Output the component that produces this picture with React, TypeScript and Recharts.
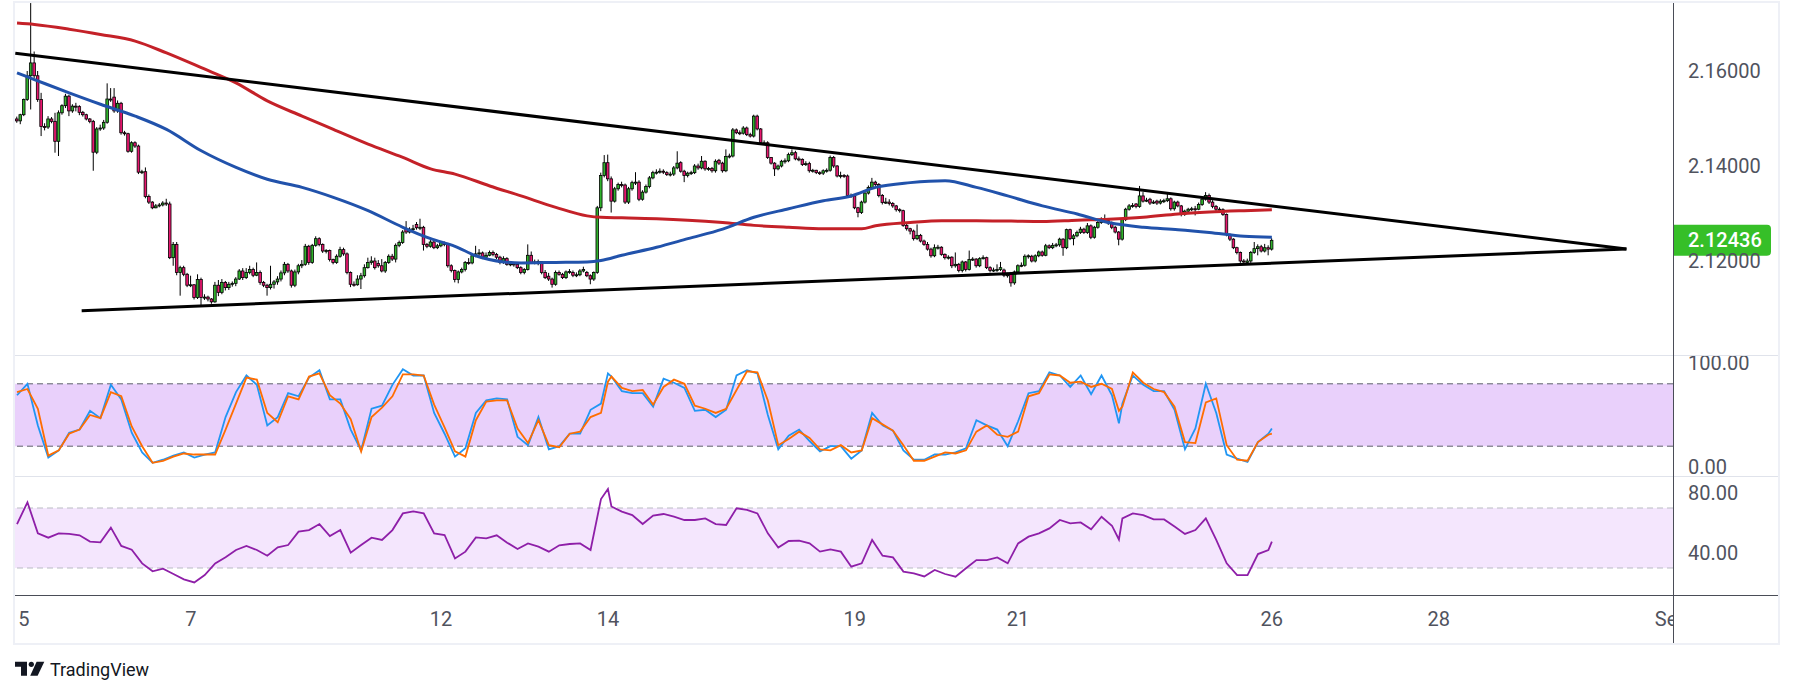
import React from "react";
import { ComposedChart, Bar, Line, XAxis, YAxis, ReferenceLine, ReferenceArea } from "recharts";

// ---------- data ----------
// hourly candles: [open, high, low, close]
const ohlc: [number, number, number, number][] = [
[2.1499,2.1504,2.1491,2.1495],[2.1495,2.1510,2.1488,2.1508],[2.1508,2.1542,2.1505,2.1540],[2.1540,2.1600,2.1537,2.1590],[2.1590,2.1743,2.1519,2.1617],
[2.1617,2.1641,2.1585,2.1590],[2.1590,2.1600,2.1535,2.1540],[2.1540,2.1554,2.1463,2.1483],[2.1483,2.1490,2.1475,2.1482],[2.1482,2.1505,2.1478,2.1499],
[2.1499,2.1503,2.1490,2.1494],[2.1494,2.1512,2.1428,2.1452],[2.1452,2.1517,2.1421,2.1512],[2.1512,2.1530,2.1508,2.1527],[2.1527,2.1552,2.1522,2.1547],
[2.1547,2.1550,2.1505,2.1516],[2.1516,2.1530,2.1512,2.1526],[2.1526,2.1533,2.1515,2.1525],[2.1525,2.1528,2.1507,2.1513],[2.1513,2.1516,2.1504,2.1508],
[2.1508,2.1510,2.1496,2.1499],[2.1499,2.1501,2.1490,2.1494],[2.1494,2.1497,2.1390,2.1429],[2.1429,2.1482,2.1425,2.1478],[2.1478,2.1487,2.1474,2.1480],
[2.1480,2.1497,2.1476,2.1492],[2.1492,2.1574,2.1489,2.1541],[2.1541,2.1564,2.1535,2.1540],[2.1545,2.1564,2.1512,2.1516],[2.1516,2.1538,2.1512,2.1532],
[2.1532,2.1535,2.1466,2.1470],[2.1470,2.1474,2.1464,2.1468],[2.1468,2.1470,2.1428,2.1431],[2.1431,2.1452,2.1428,2.1449],[2.1449,2.1452,2.1438,2.1442],
[2.1442,2.1445,2.1383,2.1387],[2.1387,2.1392,2.1383,2.1388],[2.1388,2.1397,2.1332,2.1336],[2.1336,2.1340,2.1320,2.1324],[2.1324,2.1326,2.1309,2.1312],
[2.1312,2.1320,2.1311,2.1316],[2.1316,2.1322,2.1313,2.1318],[2.1318,2.1326,2.1315,2.1322],[2.1322,2.1331,2.1316,2.1320],[2.1320,2.1325,2.1204,2.1207],
[2.1207,2.1240,2.1190,2.1235],[2.1235,2.1240,2.1170,2.1176],[2.1176,2.1190,2.1127,2.1186],[2.1186,2.1190,2.1168,2.1172],[2.1172,2.1175,2.1145,2.1149],
[2.1149,2.1169,2.1145,2.1150],[2.1150,2.1151,2.1119,2.1123],[2.1123,2.1172,2.1120,2.1161],[2.1161,2.1165,2.1106,2.1123],[2.1123,2.1130,2.1118,2.1124],
[2.1124,2.1127,2.1115,2.1120],[2.1120,2.1122,2.1110,2.1114],[2.1114,2.1156,2.1112,2.1149],[2.1149,2.1160,2.1126,2.1134],[2.1134,2.1162,2.1130,2.1155],
[2.1155,2.1158,2.1138,2.1144],[2.1144,2.1156,2.1139,2.1151],[2.1151,2.1157,2.1146,2.1153],[2.1153,2.1166,2.1147,2.1162],[2.1162,2.1183,2.1160,2.1179],
[2.1179,2.1185,2.1160,2.1165],[2.1165,2.1185,2.1162,2.1176],[2.1176,2.1190,2.1172,2.1182],[2.1182,2.1186,2.1166,2.1170],[2.1170,2.1197,2.1168,2.1176],
[2.1176,2.1180,2.1150,2.1155],[2.1155,2.1158,2.1145,2.1149],[2.1149,2.1152,2.1127,2.1144],[2.1144,2.1190,2.1140,2.1151],[2.1151,2.1160,2.1142,2.1156],
[2.1156,2.1168,2.1150,2.1162],[2.1162,2.1180,2.1157,2.1175],[2.1175,2.1198,2.1170,2.1193],[2.1193,2.1196,2.1175,2.1179],[2.1179,2.1182,2.1144,2.1149],
[2.1149,2.1182,2.1145,2.1177],[2.1177,2.1194,2.1172,2.1190],[2.1190,2.1202,2.1185,2.1193],[2.1193,2.1236,2.1190,2.1231],[2.1231,2.1234,2.1192,2.1197],
[2.1197,2.1236,2.1194,2.1233],[2.1233,2.1252,2.1230,2.1247],[2.1247,2.1250,2.1231,2.1235],[2.1235,2.1237,2.1217,2.1221],[2.1221,2.1225,2.1216,2.1222],
[2.1222,2.1224,2.1199,2.1203],[2.1203,2.1205,2.1193,2.1197],[2.1197,2.1214,2.1194,2.1210],[2.1210,2.1230,2.1207,2.1224],[2.1224,2.1228,2.1211,2.1215],
[2.1215,2.1218,2.1172,2.1176],[2.1176,2.1178,2.1145,2.1151],[2.1151,2.1157,2.1146,2.1150],[2.1150,2.1170,2.1148,2.1162],[2.1162,2.1175,2.1141,2.1169],
[2.1169,2.1193,2.1165,2.1186],[2.1186,2.1207,2.1184,2.1197],[2.1197,2.1210,2.1192,2.1200],[2.1200,2.1207,2.1182,2.1186],[2.1195,2.1202,2.1186,2.1190],
[2.1190,2.1204,2.1176,2.1179],[2.1179,2.1200,2.1175,2.1197],[2.1197,2.1214,2.1194,2.1210],[2.1210,2.1215,2.1200,2.1204],[2.1204,2.1237,2.1197,2.1233],
[2.1233,2.1243,2.1229,2.1239],[2.1239,2.1265,2.1236,2.1261],[2.1267,2.1284,2.1257,2.1261],[2.1261,2.1271,2.1258,2.1267],[2.1267,2.1276,2.1262,2.1268],
[2.1277,2.1282,2.1266,2.1270],[2.1270,2.1289,2.1265,2.1271],[2.1271,2.1274,2.1222,2.1235],
[2.1235,2.1238,2.1227,2.1231],[2.1231,2.1244,2.1228,2.1240],[2.1240,2.1243,2.1225,2.1228],[2.1228,2.1236,2.1225,2.1232],[2.1232,2.1242,2.1229,2.1239],
[2.1239,2.1241,2.1231,2.1235],[2.1235,2.1238,2.1186,2.1190],[2.1190,2.1193,2.1176,2.1180],[2.1180,2.1182,2.1155,2.1161],[2.1161,2.1180,2.1153,2.1177],
[2.1177,2.1186,2.1174,2.1182],[2.1182,2.1200,2.1178,2.1197],[2.1197,2.1206,2.1192,2.1196],[2.1196,2.1214,2.1193,2.1211],[2.1211,2.1232,2.1208,2.1215],
[2.1215,2.1225,2.1211,2.1217],[2.1217,2.1220,2.1204,2.1208],[2.1208,2.1218,2.1205,2.1212],[2.1212,2.1222,2.1210,2.1218],[2.1218,2.1222,2.1210,2.1214],
[2.1214,2.1217,2.1204,2.1208],[2.1208,2.1211,2.1193,2.1197],[2.1197,2.1210,2.1194,2.1205],[2.1205,2.1208,2.1190,2.1193],[2.1193,2.1199,2.1189,2.1194],
[2.1194,2.1197,2.1188,2.1193],[2.1193,2.1196,2.1183,2.1186],[2.1186,2.1189,2.1172,2.1176],[2.1176,2.1185,2.1172,2.1182],[2.1182,2.1235,2.1180,2.1212],
[2.1212,2.1220,2.1194,2.1197],[2.1197,2.1203,2.1193,2.1198],[2.1195,2.1203,2.1191,2.1199],[2.1199,2.1200,2.1172,2.1176],[2.1176,2.1181,2.1162,2.1165],
[2.1168,2.1175,2.1158,2.1162],[2.1162,2.1165,2.1144,2.1151],[2.1151,2.1180,2.1148,2.1176],[2.1176,2.1180,2.1169,2.1172],[2.1172,2.1175,2.1162,2.1165],
[2.1165,2.1180,2.1162,2.1177],[2.1177,2.1183,2.1173,2.1178],[2.1176,2.1180,2.1166,2.1170],[2.1170,2.1176,2.1166,2.1171],[2.1171,2.1183,2.1168,2.1179],
[2.1179,2.1188,2.1176,2.1182],[2.1176,2.1179,2.1166,2.1169],[2.1169,2.1172,2.1151,2.1162],[2.1162,2.1178,2.1158,2.1176],[2.1176,2.1316,2.1173,2.1312],
[2.1312,2.1386,2.1305,2.1380],[2.1380,2.1423,2.1376,2.1407],[2.1407,2.1424,2.1368,2.1373],[2.1373,2.1378,2.1302,2.1326],[2.1326,2.1356,2.1323,2.1352],
[2.1352,2.1365,2.1348,2.1361],[2.1361,2.1367,2.1355,2.1360],[2.1360,2.1363,2.1320,2.1324],[2.1324,2.1356,2.1320,2.1352],[2.1352,2.1369,2.1348,2.1365],
[2.1365,2.1387,2.1360,2.1366],[2.1366,2.1370,2.1326,2.1330],[2.1330,2.1349,2.1327,2.1345],[2.1345,2.1361,2.1342,2.1357],[2.1357,2.1379,2.1353,2.1375],
[2.1375,2.1390,2.1372,2.1386],[2.1386,2.1393,2.1382,2.1387],[2.1387,2.1395,2.1384,2.1389],[2.1389,2.1393,2.1383,2.1387],[2.1386,2.1389,2.1379,2.1382],
[2.1382,2.1388,2.1378,2.1383],[2.1383,2.1400,2.1379,2.1396],[2.1396,2.1431,2.1393,2.1406],[2.1407,2.1410,2.1386,2.1389],[2.1389,2.1392,2.1366,2.1380],
[2.1380,2.1388,2.1376,2.1385],[2.1385,2.1390,2.1381,2.1386],[2.1386,2.1404,2.1383,2.1400],[2.1400,2.1405,2.1392,2.1396],[2.1396,2.1421,2.1393,2.1410],
[2.1410,2.1412,2.1390,2.1394],[2.1394,2.1398,2.1390,2.1395],[2.1395,2.1398,2.1386,2.1390],[2.1390,2.1414,2.1386,2.1410],[2.1412,2.1415,2.1402,2.1406],
[2.1406,2.1409,2.1386,2.1390],[2.1390,2.1435,2.1387,2.1420],[2.1420,2.1426,2.1416,2.1421],[2.1421,2.1480,2.1418,2.1476],[2.1476,2.1479,2.1467,2.1470],
[2.1470,2.1475,2.1465,2.1469],[2.1469,2.1484,2.1466,2.1480],[2.1480,2.1483,2.1463,2.1466],[2.1466,2.1470,2.1460,2.1463],[2.1463,2.1508,2.1460,2.1505],
[2.1505,2.1508,2.1475,2.1478],[2.1478,2.1480,2.1446,2.1449],[2.1449,2.1454,2.1445,2.1449],[2.1449,2.1452,2.1415,2.1418],[2.1418,2.1419,2.1403,2.1406],
[2.1406,2.1408,2.1379,2.1394],[2.1394,2.1403,2.1391,2.1400],[2.1400,2.1413,2.1397,2.1410],[2.1410,2.1416,2.1405,2.1411],[2.1411,2.1428,2.1408,2.1424],
[2.1424,2.1435,2.1421,2.1428],[2.1428,2.1432,2.1412,2.1415],[2.1415,2.1420,2.1410,2.1414],[2.1414,2.1416,2.1400,2.1403],[2.1403,2.1410,2.1400,2.1405],
[2.1405,2.1409,2.1386,2.1390],[2.1390,2.1394,2.1386,2.1391],[2.1391,2.1392,2.1383,2.1386],[2.1386,2.1389,2.1381,2.1385],[2.1385,2.1393,2.1381,2.1390],
[2.1390,2.1395,2.1386,2.1391],[2.1391,2.1422,2.1388,2.1418],[2.1418,2.1421,2.1396,2.1400],[2.1400,2.1402,2.1376,2.1379],[2.1379,2.1388,2.1374,2.1380],
[2.1380,2.1383,2.1375,2.1379],[2.1379,2.1382,2.1335,2.1338],
[2.1338,2.1342,2.1333,2.1337],[2.1337,2.1340,2.1309,2.1312],[2.1312,2.1314,2.1292,2.1302],[2.1302,2.1327,2.1299,2.1324],[2.1324,2.1346,2.1321,2.1343],
[2.1343,2.1359,2.1340,2.1355],[2.1355,2.1375,2.1352,2.1366],[2.1366,2.1369,2.1358,2.1361],[2.1361,2.1364,2.1334,2.1338],[2.1338,2.1341,2.1319,2.1323],
[2.1323,2.1333,2.1320,2.1324],[2.1324,2.1330,2.1317,2.1321],[2.1321,2.1324,2.1312,2.1316],[2.1316,2.1318,2.1304,2.1308],[2.1308,2.1311,2.1302,2.1306],
[2.1306,2.1308,2.1272,2.1275],[2.1275,2.1278,2.1264,2.1268],[2.1268,2.1270,2.1256,2.1263],[2.1263,2.1266,2.1243,2.1247],[2.1247,2.1277,2.1244,2.1254],
[2.1254,2.1257,2.1239,2.1242],[2.1242,2.1245,2.1232,2.1235],[2.1235,2.1240,2.1222,2.1225],[2.1225,2.1228,2.1207,2.1211],[2.1211,2.1235,2.1208,2.1228],
[2.1228,2.1234,2.1224,2.1229],[2.1229,2.1231,2.1211,2.1214],[2.1214,2.1216,2.1203,2.1207],[2.1207,2.1212,2.1203,2.1208],[2.1208,2.1210,2.1185,2.1190],
[2.1190,2.1218,2.1186,2.1193],[2.1193,2.1196,2.1176,2.1180],[2.1180,2.1201,2.1176,2.1198],[2.1198,2.1200,2.1178,2.1182],[2.1182,2.1222,2.1180,2.1203],
[2.1203,2.1208,2.1200,2.1204],[2.1204,2.1206,2.1186,2.1190],[2.1190,2.1208,2.1187,2.1205],[2.1205,2.1212,2.1203,2.1207],[2.1207,2.1209,2.1183,2.1186],
[2.1186,2.1189,2.1176,2.1180],[2.1180,2.1186,2.1177,2.1181],[2.1181,2.1193,2.1177,2.1182],[2.1182,2.1198,2.1179,2.1186],[2.1181,2.1184,2.1166,2.1170],
[2.1170,2.1175,2.1165,2.1171],[2.1174,2.1177,2.1146,2.1154],[2.1154,2.1180,2.1150,2.1177],[2.1177,2.1193,2.1174,2.1190],[2.1190,2.1197,2.1187,2.1191],
[2.1191,2.1214,2.1188,2.1210],[2.1210,2.1214,2.1205,2.1211],[2.1210,2.1213,2.1197,2.1200],[2.1200,2.1214,2.1197,2.1211],[2.1211,2.1222,2.1208,2.1219],
[2.1219,2.1222,2.1209,2.1212],[2.1212,2.1236,2.1210,2.1232],[2.1232,2.1235,2.1225,2.1228],[2.1228,2.1238,2.1225,2.1233],[2.1233,2.1238,2.1229,2.1234],
[2.1234,2.1249,2.1230,2.1246],[2.1246,2.1248,2.1211,2.1228],[2.1228,2.1268,2.1225,2.1266],[2.1266,2.1268,2.1244,2.1247],[2.1247,2.1257,2.1233,2.1253],
[2.1253,2.1264,2.1250,2.1260],[2.1260,2.1272,2.1257,2.1267],[2.1267,2.1270,2.1257,2.1260],[2.1260,2.1280,2.1257,2.1274],[2.1274,2.1277,2.1246,2.1250],
[2.1250,2.1274,2.1247,2.1271],[2.1271,2.1285,2.1268,2.1281],[2.1281,2.1292,2.1278,2.1288],[2.1288,2.1298,2.1283,2.1287],[2.1285,2.1288,2.1276,2.1280],
[2.1280,2.1283,2.1267,2.1271],[2.1271,2.1274,2.1258,2.1261],[2.1261,2.1263,2.1233,2.1246],[2.1246,2.1290,2.1243,2.1287],[2.1287,2.1312,2.1284,2.1309],
[2.1309,2.1320,2.1306,2.1316],[2.1316,2.1322,2.1312,2.1317],[2.1320,2.1322,2.1311,2.1315],[2.1315,2.1358,2.1312,2.1337],[2.1337,2.1345,2.1323,2.1326],
[2.1326,2.1333,2.1324,2.1328],[2.1330,2.1333,2.1318,2.1322],[2.1322,2.1328,2.1320,2.1324],[2.1326,2.1329,2.1318,2.1322],[2.1322,2.1330,2.1319,2.1326],
[2.1326,2.1331,2.1322,2.1327],[2.1327,2.1344,2.1324,2.1331],[2.1331,2.1334,2.1306,2.1310],[2.1310,2.1327,2.1306,2.1324],[2.1324,2.1327,2.1313,2.1316],
[2.1316,2.1318,2.1294,2.1298],[2.1298,2.1308,2.1295,2.1305],[2.1305,2.1312,2.1302,2.1309],[2.1309,2.1314,2.1305,2.1310],[2.1310,2.1316,2.1296,2.1309],
[2.1309,2.1323,2.1307,2.1319],[2.1319,2.1333,2.1316,2.1330],[2.1330,2.1345,2.1327,2.1338],[2.1338,2.1342,2.1320,2.1324],[2.1324,2.1328,2.1311,2.1315],
[2.1315,2.1318,2.1305,2.1309],[2.1309,2.1313,2.1304,2.1308],[2.1308,2.1311,2.1295,2.1298],[2.1298,2.1300,2.1252,2.1256],[2.1256,2.1258,2.1242,2.1246],
[2.1246,2.1248,2.1225,2.1228],[2.1228,2.1230,2.1214,2.1218],[2.1218,2.1220,2.1196,2.1200],[2.1200,2.1204,2.1194,2.1198],[2.1197,2.1205,2.1192,2.1200],
[2.1200,2.1221,2.1196,2.1218],[2.1218,2.1240,2.1215,2.1226],[2.1226,2.1235,2.1212,2.1230],[2.1230,2.1234,2.1218,2.1221],[2.1221,2.1236,2.1218,2.1228],
[2.1228,2.1233,2.1212,2.1225],[2.1225,2.1248,2.1222,2.12436],
];

// moving averages: [bar index, value]
const blueMA: [number, number][] = [
[0,2.1596],[5,2.1582],[15,2.1554],[24,2.1530],[34,2.1505],[43,2.1477],[53,2.1432],[63,2.1397],[72,2.1372],[82,2.1355],
[91,2.1334],[101,2.1306],[111,2.1271],[119,2.1247],[126,2.1231],[132,2.1211],[140,2.1198],[145,2.1196],[155,2.1197],[164,2.1198],
[168,2.1201],[174,2.1212],[184,2.1229],[193,2.1247],[203,2.1267],[212,2.1292],[222,2.1310],[232,2.1327],[240,2.1337],[247,2.1355],
[257,2.1365],[267,2.1369],[276,2.1355],[285,2.1337],[295,2.1316],[305,2.1299],[314,2.1281],[324,2.1271],[334,2.1266],[343,2.1260],
[353,2.1252],[361,2.1250],
];
const redMA: [number, number][] = [
[0,2.1701],[5,2.1698],[15,2.1688],[24,2.1677],[34,2.1663],[43,2.1638],[53,2.1607],[63,2.1575],[72,2.1537],[82,2.1505],
[91,2.1477],[101,2.1446],[111,2.1418],[119,2.1394],[126,2.1383],[136,2.1358],[145,2.1337],[155,2.1313],[164,2.1295],[168,2.1292],
[174,2.1291],[184,2.1289],[193,2.1286],[203,2.1281],[212,2.1275],[222,2.1271],[232,2.1268],[243,2.1268],[247,2.1274],[257,2.1281],
[266,2.1285],[276,2.1285],[286,2.1284],[295,2.1283],[305,2.1286],[314,2.1288],[324,2.1292],[334,2.1299],[343,2.1303],[353,2.1306],
[361,2.1308],
];

// triangle trendlines: [bar index, price]
const upperTrend: [number, number][] = [[-0.5, 2.16373], [463, 2.12253]];
const lowerTrend: [number, number][] = [[18.6, 2.10954], [463, 2.12253]];

// oscillators sampled at these bar indices
const indIdx = [
0,3,6,9,12,15,18,21,24,27,
30,33,36,39,42,45,48,51,54,57,
60,63,66,69,72,75,78,81,84,87,
90,93,96,99,102,105,108,111,114,117,
120,123,126,129,132,135,138,141,144,147,
150,153,156,159,162,165,168,170,171,174,
177,180,183,186,189,192,195,198,201,204,
207,210,213,216,219,222,225,228,231,234,
237,240,243,246,249,252,255,258,261,264,
267,270,273,276,279,282,285,288,291,294,
297,300,303,306,309,312,315,317,318,321,
324,327,330,333,336,339,342,345,348,351,
354,357,360,361,
];
const stochK = [
69,80,40,9,16,33,36,54,47,79,
65,33,14,4,7,11,14,9,12,14,
48,72,88,79,40,48,71,68,86,93,
65,65,36,16,56,59,79,94,88,88,
52,32,10,18,52,64,66,65,29,21,
48,17,20,32,32,55,61,90,87,73,
71,71,58,85,81,76,54,55,48,55,
88,93,90,50,17,30,36,25,15,20,
20,8,16,52,40,35,16,7,7,12,
12,14,18,45,40,36,20,44,71,73,
91,88,77,88,70,88,69,42,61,88,
79,73,73,55,17,37,80,52,12,8,
5,24,32,37,
];
const stochD = [
72,75,56,11,16,32,36,50,47,72,
68,39,20,4,6,10,13,12,12,12,
36,61,86,84,52,43,68,65,87,90,
69,61,46,15,48,57,68,89,89,88,
60,38,15,10,45,63,64,64,37,23,
45,21,19,32,34,48,52,82,87,76,
73,74,60,77,84,80,59,56,52,56,
74,92,91,64,21,27,34,28,17,16,
21,14,16,47,41,35,21,6,6,10,
14,13,16,34,40,31,29,34,68,71,
89,88,81,82,77,80,75,54,58,91,
81,75,72,58,24,23,62,66,21,7,
6,24,31,32,
];
const rsiVals = [
59.3,73.8,53.1,50.2,53.1,52.7,51.8,47.6,47.1,56.9,
44.7,42.2,33.1,27.8,29.6,26,22.4,20.4,25.3,33.1,
37.1,42,44.7,42,38.2,43.8,45.3,54.2,55.3,59.3,
51.3,55.3,40.2,45.3,50.2,48.7,55.3,66.4,67.8,66.4,
53.1,52,36.4,40.9,50.4,49.8,51.8,46.9,42.7,46.4,
44.2,40.9,45.1,46,46.4,42,76,82.7,71,67.6,
65.3,59.3,64.9,66,64.2,62,62,63.1,59.3,58.7,
69.8,68.7,66.4,53.1,43.6,48,48.2,46.4,40.9,42.4,
40.9,30.9,33.1,48.7,38.2,37.1,27.6,26.4,24.4,28.7,
26,24.2,29.8,35.3,35.3,37.1,33.1,46.4,50.9,53.1,
56.4,62,59.8,60.4,55.8,64.2,58.2,49,63.1,66.4,
65.3,62.4,62.4,57.6,52.7,55.3,63.1,48.7,33.1,25.3,
25.3,39.3,42,47.6,
];

// axes
const dayTicks = [2, 50, 122, 170, 241, 288, 361, 409, 476];
const dayLabels = ["5", "7", "12", "14", "19", "21", "26", "28", "Sep"];
const priceTicks = [2.12, 2.14, 2.16];
const stochTicks = [0, 100];
const rsiTicks = [40, 80];

// ---------- styling ----------
const FONT = "Roboto, 'Noto Sans', 'DejaVu Sans', sans-serif";
const TXT = "#50535e";
const UP = "#30b22c";
const DOWN = "#e8176f";
const CHART_W = 1763;
const PLOT_W = 1658;
const AXIS_W = 105;
const X_DOMAIN: [number, number] = [-0.58, 476.4];
const PRICE_DOMAIN: [number, number] = [2.100211, 2.174316];
const STOCH_DOMAIN: [number, number] = [-8.65, 106.73];
const RSI_DOMAIN: [number, number] = [12, 90.67];
const VISIBLE: React.CSSProperties = { overflow: "visible" };

type Row = { i: number; o: number; h: number; l: number; c: number; range: [number, number]; blue?: number; red?: number; k?: number; d?: number; rsi?: number };

const rows: Row[] = ohlc.map(([o, h, l, c], i) => ({ i, o, h, l, c, range: [l, h] }));
blueMA.forEach(([i, v]) => { rows[i].blue = v; });
redMA.forEach(([i, v]) => { rows[i].red = v; });
indIdx.forEach((i, n) => { rows[i].k = stochK[n]; rows[i].d = stochD[n]; rows[i].rsi = rsiVals[n]; });
const lastClose = ohlc[ohlc.length - 1][3];

function Candle(props: any) {
  const { x, y, width, height, payload } = props;
  if (!payload || typeof y !== "number") return null;
  const { o, h, l, c } = payload as Row;
  const top = Math.min(y, y + height);
  const hh = Math.abs(height);
  const cx = x + width / 2;
  const py = (v: number) => top + ((h - v) / (h - l)) * hh;
  const bTop = py(Math.max(o, c));
  const bBot = py(Math.min(o, c));
  const bw = 2.6;
  return (
    <g>
      <line x1={cx} x2={cx} y1={top} y2={top + hh} stroke="#000" strokeWidth={1} />
      <rect x={cx - bw / 2} y={bTop} width={bw} height={Math.max(bBot - bTop, 1)} fill={c >= o ? UP : DOWN} stroke="#000" strokeWidth={0.8} />
    </g>
  );
}

const makeYTick = (digits: number) => (props: any) => {
  const { y, payload } = props;
  return (
    <text x={PLOT_W + 15} y={y} dy="0.36em" fontSize={20} fill={TXT} fontFamily={FONT} textAnchor="start">
      {Number(payload.value).toFixed(digits)}
    </text>
  );
};

const XTick = (props: any) => {
  const { x, payload } = props;
  const idx = dayTicks.indexOf(payload.value);
  return (
    <text x={x} y={142} dy="0.36em" fontSize={20} fill={TXT} fontFamily={FONT} textAnchor="middle">
      {idx >= 0 ? dayLabels[idx] : ""}
    </text>
  );
};

const PriceBox = (props: any) => {
  const vb = props.viewBox || {};
  const x0 = (vb.x ?? 0) + (vb.width ?? PLOT_W);
  const yc = vb.y ?? 0;
  const w = 98, h = 31, r = 4;
  const t = yc - h / 2;
  return (
    <g>
      <path d={`M${x0} ${t} H${x0 + w - r} Q${x0 + w} ${t} ${x0 + w} ${t + r} V${t + h - r} Q${x0 + w} ${t + h} ${x0 + w - r} ${t + h} H${x0} Z`} fill="#36bf28" />
      <text x={x0 + 15} y={yc} dy="0.36em" fontSize={20} fill="#fff" fontFamily={FONT} fontWeight={500}>
        {lastClose.toFixed(5)}
      </text>
    </g>
  );
};

const abs = (left: number, top: number, width: number, height: number, extra: React.CSSProperties = {}): React.CSSProperties => ({
  position: "absolute", left, top, width, height, ...extra,
});

export default function App() {
  const margin = { top: 0, right: 0, bottom: 0, left: 0 };
  const stochMargin = { top: 12, right: 0, bottom: 12, left: 0 };
  return (
    <div style={{ position: "absolute", left: 0, top: 0, width: 1793, height: 696, background: "#fff", overflow: "hidden", fontFamily: FONT }}>
      <div style={abs(13, 1, 1767, 644, { border: "2px solid #eef0f6", boxSizing: "border-box" })} />

      {/* price pane */}
      <div style={abs(15, 3, CHART_W, 352)}>
        <ComposedChart width={CHART_W} height={352} data={rows} margin={margin} style={VISIBLE}>
          <XAxis dataKey="i" type="number" domain={X_DOMAIN} allowDataOverflow hide />
          <YAxis orientation="right" width={AXIS_W} domain={PRICE_DOMAIN} allowDataOverflow ticks={priceTicks} interval={0}
            axisLine={false} tickLine={false} tick={makeYTick(5)} />
          <Line dataKey="red" type="monotone" stroke="#c42128" strokeWidth={3} dot={false} connectNulls isAnimationActive={false} />
          <Line dataKey="blue" type="monotone" stroke="#2152ab" strokeWidth={3} dot={false} connectNulls isAnimationActive={false} />
          <Bar dataKey="range" shape={Candle} barSize={3} isAnimationActive={false} />
          <ReferenceLine segment={[{ x: upperTrend[0][0], y: upperTrend[0][1] }, { x: upperTrend[1][0], y: upperTrend[1][1] }]} stroke="#000" strokeWidth={3} />
          <ReferenceLine segment={[{ x: lowerTrend[0][0], y: lowerTrend[0][1] }, { x: lowerTrend[1][0], y: lowerTrend[1][1] }]} stroke="#000" strokeWidth={3} />
          <ReferenceLine y={lastClose} stroke="none" label={(p: any) => <PriceBox {...p} />} />
        </ComposedChart>
      </div>

      {/* stochastic RSI pane (svg padded 12px above/below so labels stay inside it) */}
      <div style={abs(15, 344, CHART_W, 144)}>
        <ComposedChart width={CHART_W} height={144} data={rows} margin={stochMargin} style={VISIBLE}>
          <XAxis dataKey="i" type="number" domain={X_DOMAIN} allowDataOverflow hide />
          <YAxis orientation="right" width={AXIS_W} domain={STOCH_DOMAIN} allowDataOverflow ticks={stochTicks} interval={0}
            axisLine={false} tickLine={false} tick={makeYTick(2)} />
          <ReferenceArea y1={20} y2={80} x1={X_DOMAIN[0]} x2={X_DOMAIN[1]} fill="#e9d0fb" fillOpacity={1} stroke="none" />
          <ReferenceLine y={80} stroke="#5d606b" strokeDasharray="6 4" />
          <ReferenceLine y={20} stroke="#5d606b" strokeDasharray="6 4" />
          <Line dataKey="k" type="linear" stroke="#2196f3" strokeWidth={1.8} dot={false} connectNulls isAnimationActive={false} />
          <Line dataKey="d" type="linear" stroke="#ff6d00" strokeWidth={1.8} dot={false} connectNulls isAnimationActive={false} />
        </ComposedChart>
      </div>

      {/* RSI pane + time axis */}
      <div style={abs(15, 477, CHART_W, 165)}>
        <ComposedChart width={CHART_W} height={165} data={rows} margin={margin} style={VISIBLE}>
          <XAxis dataKey="i" type="number" domain={X_DOMAIN} allowDataOverflow height={47} ticks={dayTicks} interval={0}
            axisLine={false} tickLine={false} tick={<XTick />} />
          <YAxis orientation="right" width={AXIS_W} domain={RSI_DOMAIN} allowDataOverflow ticks={rsiTicks} interval={0}
            axisLine={false} tickLine={false} tick={makeYTick(2)} />
          <ReferenceArea y1={30} y2={70} x1={X_DOMAIN[0]} x2={X_DOMAIN[1]} fill="#f4e6fd" fillOpacity={1} stroke="none" />
          <ReferenceLine y={70} stroke="#b9bbc3" strokeDasharray="6 4" />
          <ReferenceLine y={30} stroke="#b9bbc3" strokeDasharray="6 4" />
          <Line dataKey="rsi" type="linear" stroke="#8e1fa8" strokeWidth={1.8} dot={false} connectNulls isAnimationActive={false} />
        </ComposedChart>
      </div>

      {/* pane separators and scale borders */}
      <div style={abs(15, 355, CHART_W, 1, { background: "#e0e3eb" })} />
      <div style={abs(15, 476, CHART_W, 1, { background: "#e0e3eb" })} />
      <div style={abs(1674, 596, 104, 46, { background: "#fff" })} />
      <div style={abs(15, 595, CHART_W, 1, { background: "#4a4d57" })} />
      <div style={abs(1673, 3, 1, 640, { background: "#4a4d57" })} />

      {/* TradingView logo */}
      <svg style={abs(15, 658, 170, 26)} width={170} height={26}>
        <g transform="translate(0,3.7)" fill="#131722">
          <path d="M0 0 H12 V14 H6 V5 H0 Z" />
          <circle cx={16.3} cy={2.6} r={2.6} />
          <path d="M21.6 0 H29.3 L22.6 14 H15.2 Z" />
        </g>
        <text x={35} y={17.7} fontSize={18} fill="#131722" fontFamily={FONT}>TradingView</text>
      </svg>
    </div>
  );
}
